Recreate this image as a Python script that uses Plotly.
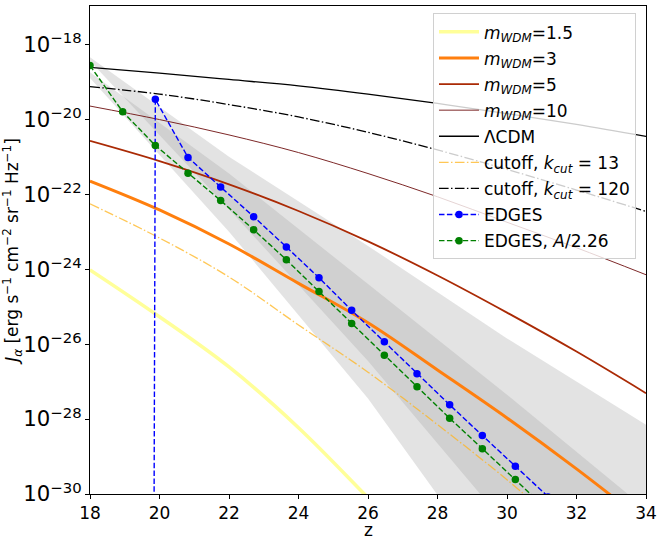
import numpy as np
import plotly.graph_objects as go

# ---------------- data (log10 of J_alpha) ----------------
z_model = [18, 20, 22, 24, 26, 28, 30, 32, 34]
logJ_w15 = [-24.02, -25.27, -26.61, -28.23, -30.10, -32.02]
logJ_w3 = [-21.65, -22.42, -23.33, -24.38, -25.43, -26.69, -27.97, -29.33, -30.77]
logJ_w5 = [-20.58, -21.12, -21.74, -22.45, -23.26, -24.17, -25.16, -26.20, -27.31]
logJ_w10 = [-19.65, -20.01, -20.42, -20.89, -21.45, -22.07, -22.75, -23.43, -24.15]
logJ_lcdm = [-18.62, -18.77, -18.94, -19.11, -19.33, -19.58, -19.85, -20.14, -20.46]
logJ_k13 = [-22.26, -23.17, -24.21, -25.49, -26.75, -28.15, -29.62, -31.22]
logJ_k120 = [-19.13, -19.33, -19.61, -19.94, -20.35, -20.82, -21.34, -21.89, -22.46]

z_edges = [18.00, 18.94, 19.88, 20.82, 21.76, 22.71, 23.65, 24.59, 25.53,
           26.47, 27.41, 28.35, 29.29, 30.24, 31.18, 32.12, 33.06, 34.00]
logJ_edges = [-300, -300, -19.47, -21.02, -21.81, -22.60, -23.41, -24.23, -25.10,
              -25.94, -26.79, -27.62, -28.44, -29.26, -30.08, -30.90, -31.70, -32.50]
logJ_edges_a = [-18.57, -19.80, -20.70, -21.44, -22.17, -22.95, -23.75, -24.60, -25.45,
                -26.30, -27.14, -27.98, -28.79, -29.61, -30.45, -31.27, -32.10, -32.90]

z_band = [18, 22, 26, 30, 34]
band1_low = [-18.45, -22.40, -26.45, -30.85, -35.00]
band1_high = [-18.35, -21.00, -23.38, -25.85, -28.15]
band2_low = [-18.90, -23.00, -27.45, -32.60, -38.00]
band2_high = [-18.75, -21.45, -24.40, -27.35, -30.40]

def J(v):
    return [10.0 ** x for x in v]

FONT = "DejaVu Sans"
fig = go.Figure()

band_fill = "rgba(167,167,167,0.32)"
for lo, hi in [(band1_low, band1_high), (band2_low, band2_high)]:
    fig.add_trace(go.Scatter(x=z_band, y=J(lo), mode="lines", line=dict(width=0),
                             showlegend=False, hoverinfo="skip"))
    fig.add_trace(go.Scatter(x=z_band, y=J(hi), mode="lines", line=dict(width=0),
                             fill="tonexty", fillcolor=band_fill,
                             showlegend=False, hoverinfo="skip"))

def m(v):
    return "<i>m</i><sub><i>WDM</i></sub>=" + v

lines = [
    (z_model[:len(logJ_w15)], logJ_w15, m("1.5"), "#ffff99", 3.5, "solid"),
    (z_model, logJ_w3, m("3"), "#ff7f0e", 3.0, "solid"),
    (z_model, logJ_w5, m("5"), "#aa2a05", 1.8, "solid"),
    (z_model, logJ_w10, m("10"), "#6e1010", 0.9, "solid"),
    (z_model, logJ_lcdm, "ΛCDM", "black", 1.3, "solid"),
    (z_model[:len(logJ_k13)], logJ_k13, "cutoff, <i>k</i><sub><i>cut</i></sub> = 13",
     "rgba(255,180,30,0.75)", 1.3, "9.6px,2.4px,1.5px,2.4px"),
    (z_model, logJ_k120, "cutoff, <i>k</i><sub><i>cut</i></sub> = 120",
     "black", 1.3, "9.6px,2.4px,1.5px,2.4px"),
]
for i, (zx, vals, name, col, w, dash) in enumerate(lines):
    fig.add_trace(go.Scatter(x=zx, y=J(vals), mode="lines", name=name,
                             line=dict(color=col, width=w, dash=dash, shape="spline", smoothing=1.0),
                             legendgroup="g%d" % i))

fig.add_trace(go.Scatter(x=z_edges, y=J(logJ_edges), mode="lines+markers", name="EDGES",
                         line=dict(color="blue", width=1.4, dash="5.5px,2.4px"),
                         marker=dict(color="blue", size=7.5), legendgroup="g7"))
fig.add_trace(go.Scatter(x=z_edges, y=J(logJ_edges_a), mode="lines+markers",
                         name="EDGES, <i>A</i>/2.26",
                         line=dict(color="green", width=1.4, dash="5.5px,2.4px"),
                         marker=dict(color="green", size=7.5), legendgroup="g8"))

axis_common = dict(showline=True, linecolor="black", linewidth=1, mirror=True,
                   ticks="outside", ticklen=4, tickwidth=1, tickcolor="black",
                   showgrid=False, zeroline=False, automargin=False,
                   tickfont=dict(family=FONT, size=17, color="black"))

fig.update_xaxes(range=[18, 34], dtick=2, **axis_common)
fig.update_yaxes(type="log", range=[-30, -16.98], dtick=2, exponentformat="power",
                 title=dict(text="<i>J</i><sub><i>α</i></sub> [erg s<sup>−1</sup> cm<sup>−2</sup> sr<sup>−1</sup> Hz<sup>−1</sup>]",
                            font=dict(family=FONT, size=17), standoff=4),
                 **axis_common)

# x-axis title placed below the tick labels
fig.add_annotation(text="z", xref="paper", yref="paper", x=0.5, y=0,
                   xanchor="center", yanchor="middle", yshift=-36, showarrow=False,
                   font=dict(family=FONT, size=17, color="black"))

fig.update_layout(
    width=658, height=537,
    margin=dict(l=90, r=12, t=6, b=43),
    plot_bgcolor="white", paper_bgcolor="white",
    font=dict(family=FONT, size=17, color="black"),
    legend=dict(x=0.982, y=0.985, xanchor="right", yanchor="top",
                bgcolor="rgba(255,255,255,0.8)", bordercolor="#d0d0d0", borderwidth=1,
                font=dict(family=FONT, size=17), itemwidth=40, tracegroupgap=1),
)

fig.write_html("out.html", config={"displayModeBar": False},
               post_script="document.body.style.margin='0';")
